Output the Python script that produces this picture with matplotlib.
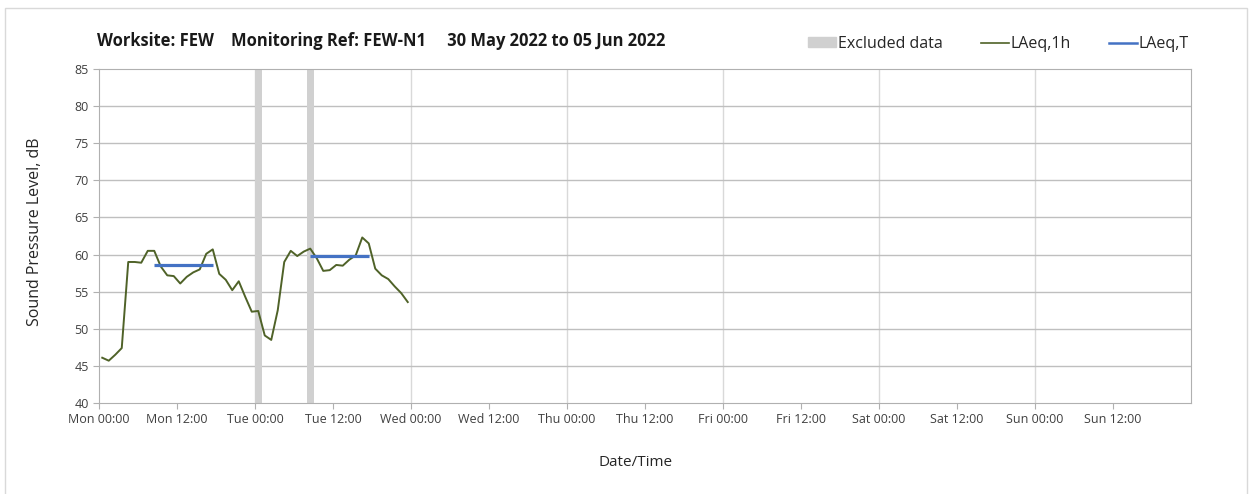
import matplotlib
matplotlib.use("Agg")
import matplotlib.pyplot as plt
import matplotlib.patches as mpatches
from matplotlib.lines import Line2D
import numpy as np

# hourly LAeq,1h readings from Mon 00:00 (one value per hour)
laeq_1h = [46.1, 45.7, 46.5, 47.4, 59.0, 59.0, 58.9, 60.5, 60.5, 58.4,
           57.2, 57.1, 56.1, 57.0, 57.6, 58.0, 60.1, 60.7, 57.4, 56.6,
           55.2, 56.4, 54.3, 52.3, 52.4, 49.1, 48.5, 52.5, 59.0, 60.5,
           59.8, 60.4, 60.8, 59.5, 57.8, 57.9, 58.6, 58.5, 59.3, 59.9,
           62.3, 61.5, 58.1, 57.2, 56.7, 55.7, 54.8, 53.6]
# excluded hours (index of hour from Mon 00:00)
excluded_hours = [24, 32]
# LAeq,T periods: (first hour, last hour, level)
laeq_t_start = [8, 32]
laeq_t_end = [17, 41]
laeq_t_level = [58.6, 59.8]

tick_labels = ['Mon 00:00', 'Mon 12:00', 'Tue 00:00', 'Tue 12:00', 'Wed 00:00',
               'Wed 12:00', 'Thu 00:00', 'Thu 12:00', 'Fri 00:00', 'Fri 12:00',
               'Sat 00:00', 'Sat 12:00', 'Sun 00:00', 'Sun 12:00']

plt.rcParams['font.family'] = ['Open Sans', 'DejaVu Sans']

fig = plt.figure(figsize=(12.51, 4.94), dpi=100)
ax = fig.add_axes([99/1251, 1-403/494, (1191-99)/1251, (403-69)/494])

# outer chart border
fig.patches.append(mpatches.Rectangle((5/1251, -0.05), (1247-5)/1251, 1-8/494+0.05,
                                      transform=fig.transFigure, fill=False,
                                      edgecolor='#d9d9d9', lw=1))

hours = np.arange(len(laeq_1h)) + 0.5

# day gridlines
for d in range(24, 168, 24):
    ax.axvline(d, color='#d9d9d9', lw=1, zorder=0)
ax.set_yticks(range(40, 90, 5))
for yv in range(45, 85, 5):
    ax.axhline(yv, color='#bfbfbf', lw=1, zorder=0)

ax.bar(np.array(excluded_hours) + 0.5, 45, bottom=40, width=1.0, color='#d0d0d0',
       zorder=1)
ax.plot(hours, laeq_1h, color='#4f6228', lw=1.4, zorder=2)
for s, e, lv in zip(laeq_t_start, laeq_t_end, laeq_t_level):
    ax.plot([s + 0.5, e + 0.5], [lv, lv], color='#4472c4', lw=2.3, zorder=3,
            solid_capstyle='butt')

ax.set_xlim(0, 168)
ax.set_ylim(40, 85)
ax.set_xticks(range(0, 168, 12))
ax.set_xticklabels(tick_labels)
for sp in ax.spines.values():
    sp.set_color('#b0b0b0')
ax.tick_params(axis='both', colors='#b0b0b0', labelcolor='#404040', labelsize=9,
               length=4, direction='out')
ax.tick_params(axis='x', pad=3)

fig.text(35/1251, 1-232/494, 'Sound Pressure Level, dB', fontsize=11.5, color='#262626',
         rotation=90, ha='center', va='center')
fig.text(636/1251, 1-462/494, 'Date/Time', fontsize=11, color='#262626',
         ha='center', va='center')

fig.text(97/1251, 1-41/494, 'Worksite: FEW    Monitoring Ref: FEW-N1     30 May 2022 to 05 Jun 2022',
         fontsize=11.9, fontweight='bold', va='center', ha='left', color='#1a1a1a')

handles = [mpatches.Patch(color='#d0d0d0', label='Excluded data'),
           Line2D([], [], color='#4f6228', lw=1.2, label='LAeq,1h'),
           Line2D([], [], color='#4472c4', lw=1.8, label='LAeq,T')]
fig.legend(handles=handles, loc='center right', bbox_to_anchor=(1203/1251, 1-44/494),
           ncol=3, frameon=False, fontsize=11.5, handlelength=1.75, handleheight=0.6,
           handletextpad=0.1, columnspacing=2.4, labelcolor='#262626')

fig.savefig('out.png', dpi=100)
